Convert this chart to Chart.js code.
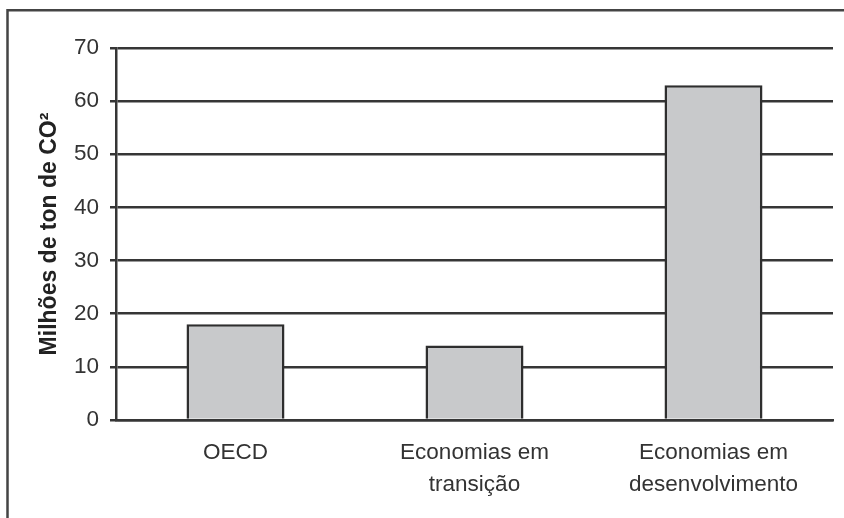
<!DOCTYPE html>
<html>
<head>
<meta charset="utf-8">
<script src="https://cdn.jsdelivr.net/npm/chart.js@4.4.1/dist/chart.umd.min.js"></script>
<style>
  html, body { margin: 0; padding: 0; background: #ffffff; }
  #wrap { width: 844px; height: 518px; position: relative; }
</style>
</head>
<body>
<div id="wrap"><canvas id="graficoCO2"></canvas></div>
<script>
// Emissões por grupo de países
var categorias = [
  "OECD",
  ["Economias em", "transição"],
  ["Economias em", "desenvolvimento"]
];
var emissoes = [18, 14, 63];
var ticksY = [0, 10, 20, 30, 40, 50, 60, 70];
var tituloY = "Milhões de ton de CO²";

var corLinha = '#363636';
var fonte = "'Liberation Sans', Arial, Helvetica, sans-serif";

// moldura superior e esquerda
var moldura = {
  id: 'moldura',
  beforeDraw: function(chart) {
    var ctx = chart.ctx;
    ctx.save();
    ctx.strokeStyle = '#444444';
    ctx.lineWidth = 2.5;
    ctx.beginPath();
    ctx.moveTo(7.5, 520);
    ctx.lineTo(7.5, 10.3);
    ctx.lineTo(846, 10.3);
    ctx.stroke();
    ctx.restore();
  }
};

var ctx = document.getElementById('graficoCO2').getContext('2d');
var grafico = new Chart(ctx, {
  type: 'bar',
  data: {
    labels: categorias,
    datasets: [{
      label: tituloY,
      data: emissoes,
      backgroundColor: '#c8c9cb',
      borderColor: '#2e2e2e',
      borderWidth: 2.5,
      barPercentage: 0.41,
      categoryPercentage: 1
    }]
  },
  options: {
    responsive: true,
    maintainAspectRatio: false,
    animation: false,
    layout: { padding: { top: 48, right: 11, left: 0, bottom: 0 } },
    plugins: {
      legend: { display: false },
      tooltip: { enabled: false }
    },
    scales: {
      x: {
        grid: { display: false, drawTicks: false },
        border: { display: true, color: corLinha, width: 2.5 },
        ticks: {
          color: '#333333',
          padding: 17,
          maxRotation: 0,
          autoSkip: false,
          font: { family: fonte, size: 22.5, lineHeight: 1.42 }
        },
        afterFit: function(scale) { scale.height = 98; }
      },
      y: {
        min: 0,
        max: 70,
        afterBuildTicks: function(scale) {
          scale.ticks = ticksY.map(function(v) { return { value: v }; });
        },
        grid: { color: corLinha, lineWidth: 2.5, tickLength: 6 },
        border: { display: true, color: corLinha, width: 2.5 },
        ticks: {
          color: '#333333',
          padding: 11,
          font: { family: fonte, size: 22.5 }
        },
        title: {
          display: true,
          text: tituloY,
          color: '#222222',
          padding: { top: 36, bottom: 0 },
          font: { family: fonte, size: 23, weight: 'bold' }
        },
        afterFit: function(scale) { scale.width = 116; }
      }
    }
  },
  plugins: [moldura]
});
</script>
</body>
</html>
